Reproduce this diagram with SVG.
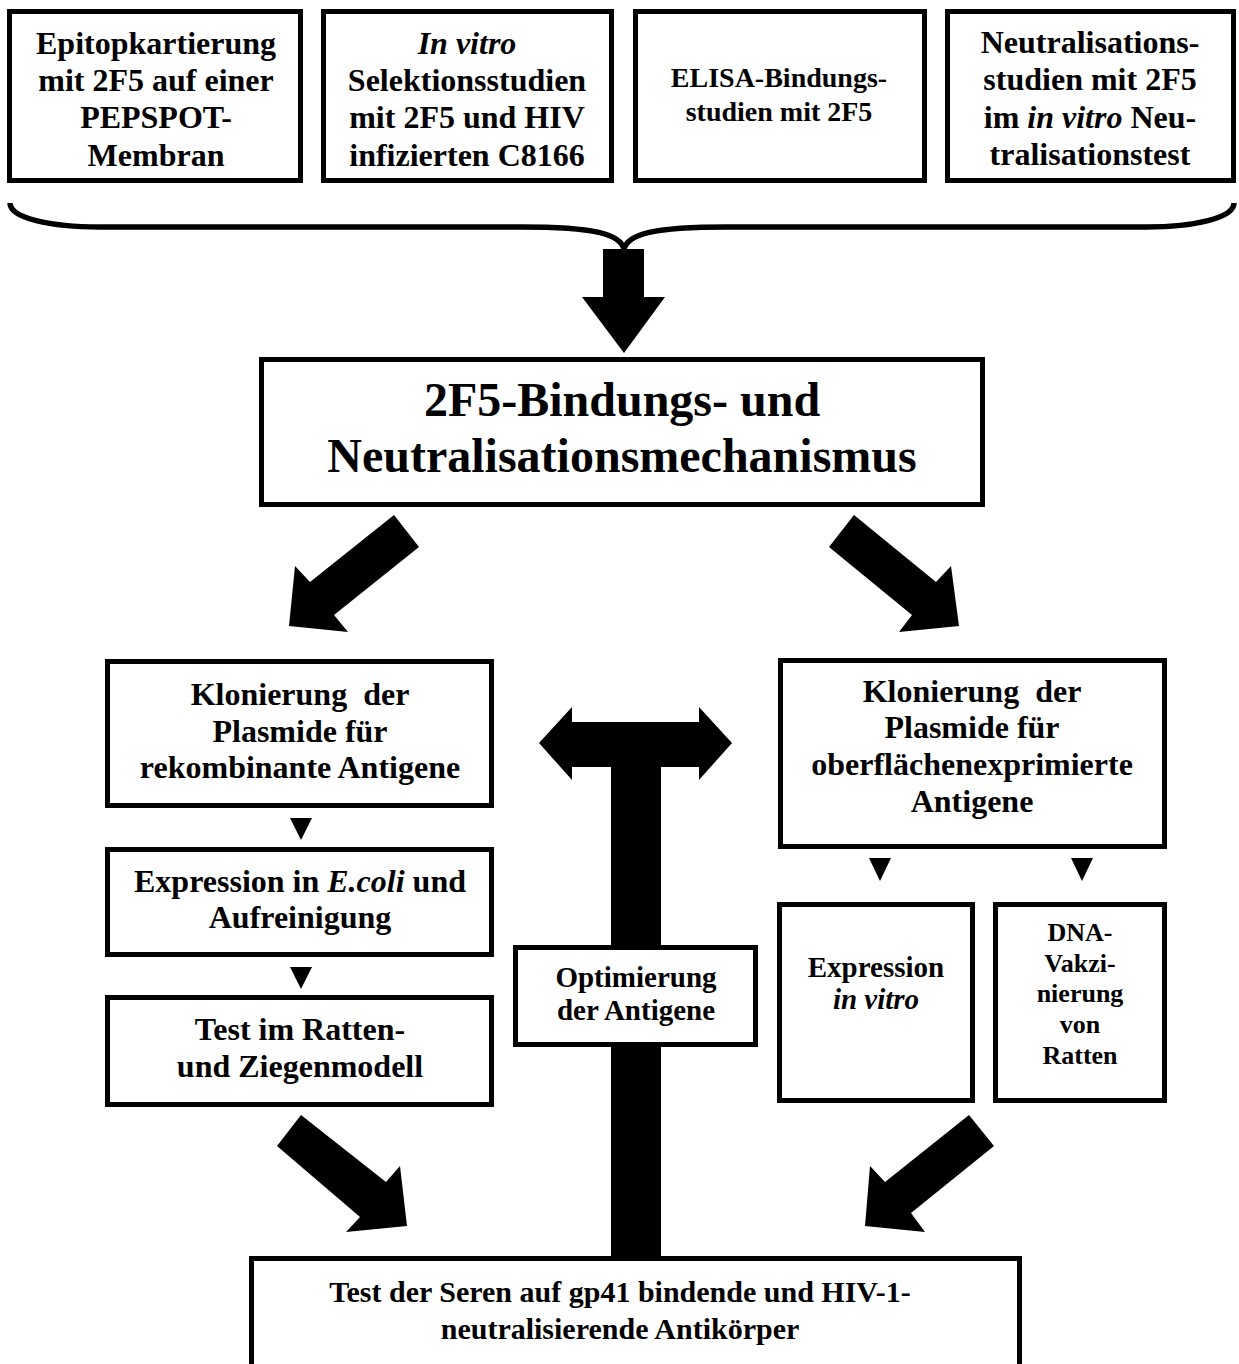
<svg xmlns="http://www.w3.org/2000/svg" width="1239" height="1364" viewBox="0 0 1239 1364">
<style>
.box{fill:#fff;stroke:#000;stroke-width:5}
text{font-family:"Liberation Serif","Times New Roman",serif;font-weight:bold;fill:#000;text-anchor:middle}
.t32{font-size:32px}
.t28{font-size:28px}
.t29{font-size:29px}
.t26{font-size:26px}
.t30{font-size:30px}
.t48{font-size:48px}
.it{font-style:italic}
.arr{fill:#000}
</style>
<rect width="1239" height="1364" fill="#fff"/>
<g id="connectors">
  <path d="M10 203 C10 218 50 227 100 227 L521 227 C595 227 620 234 624 249 C628 234 653 227 727 227 L1146 227 C1194 227 1234 218 1234 203" fill="none" stroke="#000" stroke-width="5.5"/>
  <polygon class="arr" points="603,249 644,249 644,297 665,297 624,353 582,297 603,297"/>
  <polygon class="arr" points="394,515 419,547 334,615 348,632 289,626 295,566 310,582"/>
  <polygon class="arr" points="854,515 936,582 951,566 959,626 899,632 912,615 829,547"/>
  <polygon class="arr" points="301,1115 386,1182 400,1166 407,1226 346,1232 360,1217 277,1146"/>
  <polygon class="arr" points="969,1115 994,1146 911,1213 925,1232 865,1226 870,1166 885,1182"/>
  <polygon class="arr" points="539,743 572,707 572,722 699,722 699,707 732,743 699,780 699,767 661,767 661,1258 611,1258 611,767 572,767 572,780"/>
  <polygon class="arr" points="290,818 312,818 301,840"/>
  <polygon class="arr" points="290,967 312,967 301,989"/>
  <polygon class="arr" points="869,858 891,858 880,881"/>
  <polygon class="arr" points="1071,858 1093,858 1082,881"/>
</g>
<g id="n1">
  <rect class="box" x="9.5" y="11.5" width="291" height="169"/>
  <text class="t32" x="156" y="54">Epitopkartierung</text>
  <text class="t32" x="156" y="91">mit 2F5 auf einer</text>
  <text class="t32" x="156" y="128">PEPSPOT-</text>
  <text class="t32" x="156" y="166">Membran</text>
</g>
<g id="n2">
  <rect class="box" x="323.5" y="11.5" width="288" height="169"/>
  <text class="t32 it" x="467" y="54">In vitro</text>
  <text class="t32" x="467" y="91">Selektionsstudien</text>
  <text class="t32" x="467" y="128">mit 2F5 und HIV</text>
  <text class="t32" x="467" y="166">infizierten C8166</text>
</g>
<g id="n3">
  <rect class="box" x="635.5" y="11.5" width="289" height="169"/>
  <text class="t28" x="779" y="87">ELISA-Bindungs-</text>
  <text class="t28" x="779" y="121">studien mit 2F5</text>
</g>
<g id="n4">
  <rect class="box" x="947.5" y="11.5" width="286" height="169"/>
  <text class="t32" x="1090" y="53">Neutralisations-</text>
  <text class="t32" x="1090" y="90">studien mit 2F5</text>
  <text class="t32" x="1090" y="128">im <tspan class="it">in vitro</tspan> Neu-</text>
  <text class="t32" x="1090" y="165">tralisationstest</text>
</g>
<g id="n5">
  <rect class="box" x="261.5" y="359.5" width="721" height="145"/>
  <text class="t48" x="622" y="416">2F5-Bindungs- und</text>
  <text class="t48" x="622" y="472">Neutralisationsmechanismus</text>
</g>
<g id="n6">
  <rect class="box" x="107.5" y="661.5" width="384" height="144"/>
  <text class="t32" x="300" y="705" xml:space="preserve">Klonierung  der</text>
  <text class="t32" x="300" y="742">Plasmide für</text>
  <text class="t32" x="300" y="778">rekombinante Antigene</text>
</g>
<g id="n7">
  <rect class="box" x="107.5" y="849.5" width="384" height="105"/>
  <text class="t32" x="300" y="892">Expression in <tspan class="it">E.coli</tspan> und</text>
  <text class="t32" x="300" y="928">Aufreinigung</text>
</g>
<g id="n8">
  <rect class="box" x="107.5" y="997.5" width="384" height="107"/>
  <text class="t32" x="300" y="1040">Test im Ratten-</text>
  <text class="t32" x="300" y="1077">und Ziegenmodell</text>
</g>
<g id="n9">
  <rect class="box" x="780.5" y="660.5" width="384" height="186"/>
  <text class="t32" x="972" y="702" xml:space="preserve">Klonierung  der</text>
  <text class="t32" x="972" y="738">Plasmide für</text>
  <text class="t32" x="972" y="775">oberflächenexprimierte</text>
  <text class="t32" x="972" y="812">Antigene</text>
</g>
<g id="n10">
  <rect class="box" x="779.5" y="904.5" width="193" height="196"/>
  <text class="t29" x="876" y="977">Expression</text>
  <text class="t29 it" x="876" y="1009">in vitro</text>
</g>
<g id="n11">
  <rect class="box" x="995.5" y="904.5" width="169" height="196"/>
  <text class="t26" x="1080" y="941">DNA-</text>
  <text class="t26" x="1080" y="972">Vakzi-</text>
  <text class="t26" x="1080" y="1002">nierung</text>
  <text class="t26" x="1080" y="1033">von</text>
  <text class="t26" x="1080" y="1064">Ratten</text>
</g>
<g id="n12">
  <rect class="box" x="515.5" y="947.5" width="240" height="97"/>
  <text class="t29" x="636" y="987">Optimierung</text>
  <text class="t29" x="636" y="1020">der Antigene</text>
</g>
<g id="n13">
  <rect class="box" x="251.5" y="1258.5" width="768" height="200"/>
  <text class="t30" x="620" y="1302">Test der Seren auf gp41 bindende und HIV-1-</text>
  <text class="t30" x="620" y="1339">neutralisierende Antikörper</text>
</g>
</svg>
